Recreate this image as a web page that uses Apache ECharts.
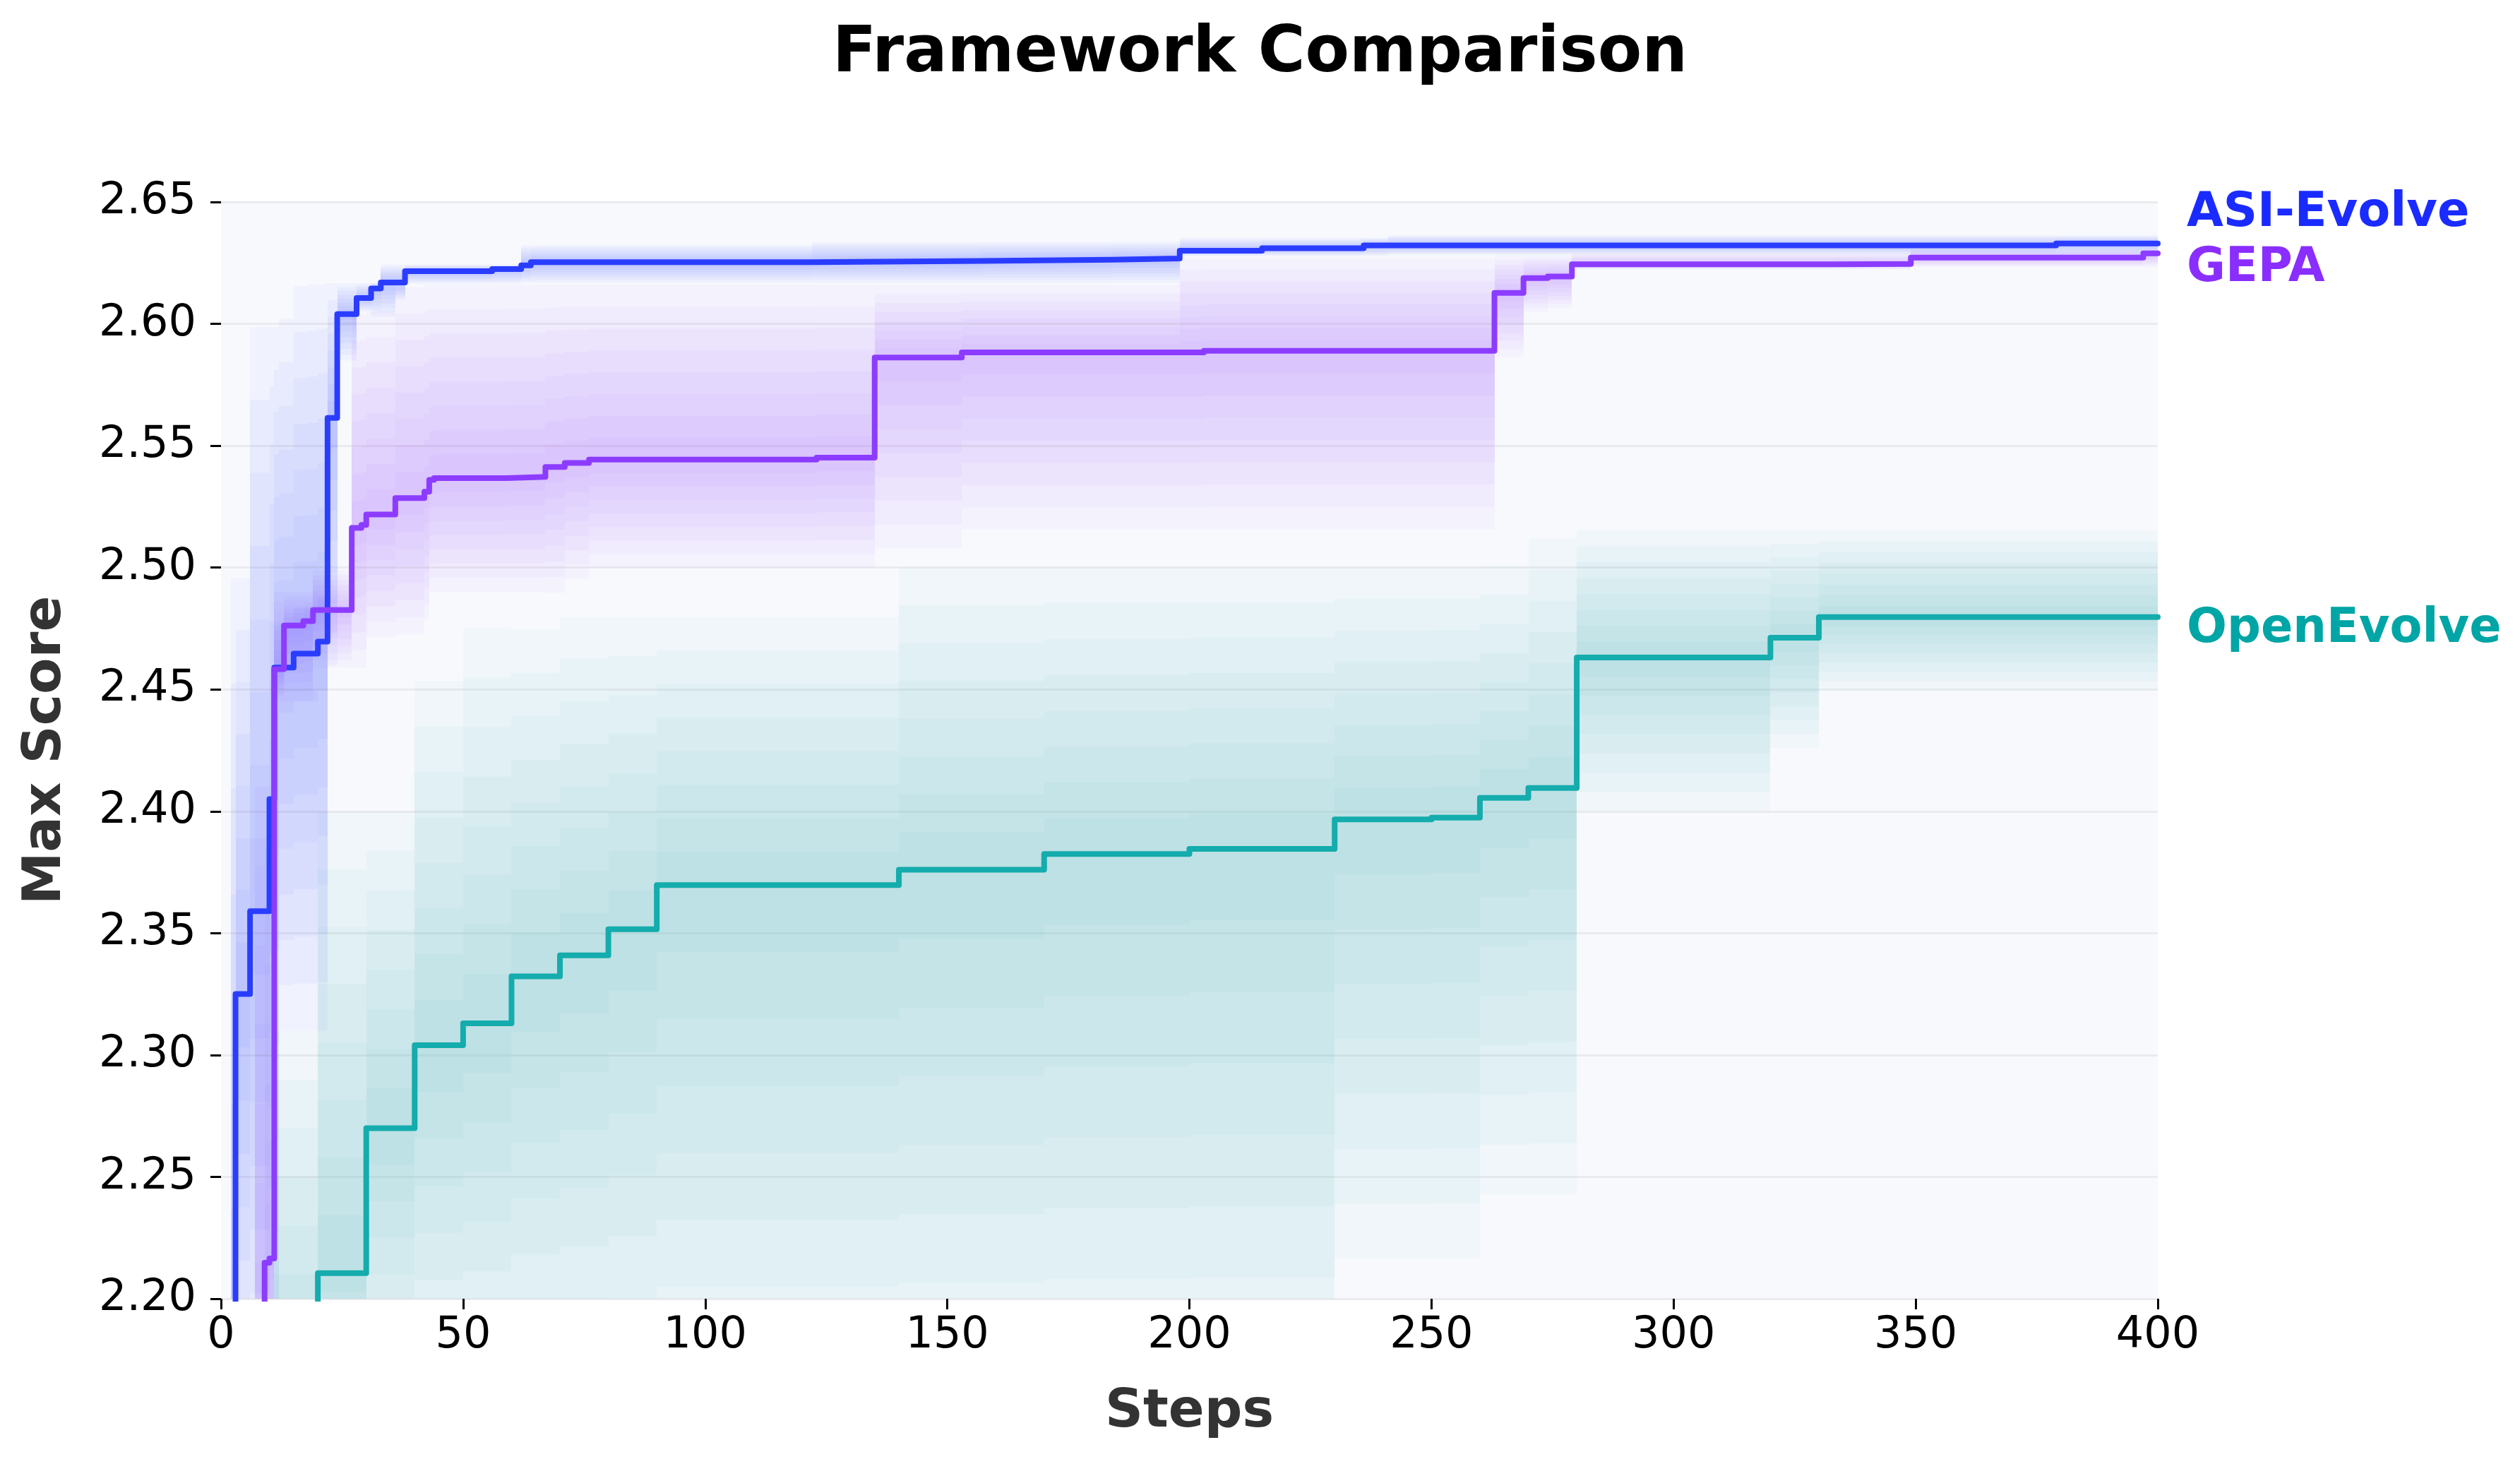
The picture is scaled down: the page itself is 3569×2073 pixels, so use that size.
<!DOCTYPE html>
<html>
<head>
<meta charset="utf-8">
<title>Framework Comparison</title>
<script src="https://cdn.jsdelivr.net/npm/echarts@6/dist/echarts.min.js"></script>
<style>
  html, body { margin: 0; padding: 0; background: #fff; }
  #main { width: 3569px; height: 2073px; }
</style>
</head>
<body>
<div id="main"></div>
<script>
// best score so far, post-step: score[i] holds from step[i] to step[i+1]
// first value of each run sits below the axis (curve enters from the bottom)
var asiSteps  = [0, 3, 6, 10, 11, 15, 20, 22, 24, 28, 31, 33, 38, 56, 62, 64, 122, 157, 184, 198, 215, 236, 379, 400];
var asiScores = [2.15, 2.325, 2.359, 2.405, 2.459, 2.4647, 2.4696, 2.5614, 2.604, 2.6106, 2.6145, 2.617, 2.6216, 2.6225, 2.624, 2.6253, 2.6258, 2.6263, 2.6268, 2.630, 2.631, 2.6322, 2.633, 2.633];

var gepaSteps  = [0, 9, 10, 11, 13, 17, 19, 27, 29, 30, 36, 42, 43, 44, 59, 67, 71, 76, 123, 135, 153, 203, 263, 269, 274, 279, 333, 349, 397, 400];
var gepaScores = [2.15, 2.2148, 2.2165, 2.4583, 2.4762, 2.478, 2.4826, 2.5163, 2.5175, 2.5218, 2.5285, 2.5311, 2.536, 2.5367, 2.5372, 2.5413, 2.5429, 2.5443, 2.5451, 2.5862, 2.5883, 2.5889, 2.6127, 2.6188, 2.6194, 2.6244, 2.6246, 2.6272, 2.6289, 2.6289];

var openSteps  = [0, 20, 30, 40, 50, 60, 70, 80, 90, 140, 170, 200, 230, 250, 260, 270, 280, 320, 330, 400];
var openScores = [2.15, 2.2105, 2.270, 2.304, 2.313, 2.3323, 2.3409, 2.3516, 2.3697, 2.376, 2.3825, 2.3846, 2.3967, 2.3974, 2.4055, 2.4096, 2.4631, 2.4712, 2.4797, 2.4797];

// spread across runs (min / max), also post-step
var asiBandSteps = [2, 6, 12, 15, 18, 21, 22, 24, 28, 31, 33, 36, 38, 62, 122, 198, 241, 400];
var asiBandLow   = [2.15, 2.15, 2.310, 2.310, 2.310, 2.310, 2.46, 2.585, 2.605, 2.603, 2.603, 2.610, 2.6164, 2.6167, 2.6167, 2.6278, 2.6282, 2.6282];
var asiBandHigh  = [2.4957, 2.5987, 2.6021, 2.6155, 2.6162, 2.6167, 2.6167, 2.6167, 2.6167, 2.617, 2.6243, 2.6243, 2.6243, 2.6323, 2.6336, 2.6353, 2.6363, 2.6363];

var gepaBandSteps = [7, 11, 19, 27, 30, 36, 42, 43, 67, 71, 76, 135, 153, 198, 263, 269, 274, 279, 349, 400];
var gepaBandLow   = [2.15, 2.445, 2.459, 2.459, 2.4716, 2.4727, 2.4788, 2.490, 2.4897, 2.4952, 2.500, 2.5079, 2.5157, 2.5157, 2.5865, 2.605, 2.6065, 2.6224, 2.6234, 2.6234];
var gepaBandHigh  = [2.41, 2.49, 2.499, 2.604, 2.605, 2.615, 2.616, 2.616, 2.616, 2.616, 2.616, 2.616, 2.616, 2.627, 2.628, 2.628, 2.628, 2.629, 2.6305, 2.6305];

var openBandSteps = [11, 20, 40, 50, 60, 70, 140, 230, 260, 270, 280, 320, 330, 400];
var openBandLow   = [2.15, 2.15, 2.15, 2.15, 2.15, 2.15, 2.15, 2.2165, 2.2429, 2.2429, 2.40, 2.426, 2.4497, 2.4497];
var openBandHigh  = [2.31, 2.40, 2.4535, 2.475, 2.4746, 2.4797, 2.50, 2.50, 2.5006, 2.5119, 2.5153, 2.5153, 2.5153, 2.5153];

var yTicks = [2.20, 2.25, 2.30, 2.35, 2.40, 2.45, 2.50, 2.55, 2.60, 2.65];

var seriesNames  = ['ASI-Evolve', 'GEPA', 'OpenEvolve'];
var lineColors   = ['#2a3dff', '#8c3cff', '#14acac'];
var labelColors  = ['#1a2bff', '#8a2eff', '#00a5a5'];
var labelScores  = [2.6452, 2.6226, 2.4744]; // where the end labels sit

var chart = echarts.init(document.getElementById('main'));

function toPoints(steps, scores) {
    var pts = [];
    for (var i = 0; i < steps.length; i++) pts.push([steps[i], scores[i]]);
    return pts;
}

function valueAt(steps, vals, x) {
    var v = vals[0];
    for (var i = 0; i < steps.length; i++) {
        if (steps[i] <= x) v = vals[i]; else break;
    }
    return v;
}

// nested layers between the curve and the band edges, so the shade is darkest at the curve
function bandRects(lineSteps, lineScores, bSteps, bLow, bHigh, layers) {
    var xs = bSteps.slice();
    var first = bSteps[0], last = bSteps[bSteps.length - 1];
    lineSteps.forEach(function (s) {
        if (s > first && s < last && xs.indexOf(s) < 0) xs.push(s);
    });
    xs.sort(function (a, b) { return a - b; });
    var rects = [];
    for (var i = 0; i < xs.length - 1; i++) {
        var c = valueAt(lineSteps, lineScores, xs[i]);
        var lo = Math.min(valueAt(bSteps, bLow, xs[i]), c);
        var hi = Math.max(valueAt(bSteps, bHigh, xs[i]), c);
        for (var k = 1; k <= layers; k++) {
            var f = k / layers;
            rects.push([xs[i], xs[i + 1], c - (c - lo) * f, c + (hi - c) * f]);
        }
    }
    return rects;
}

function bandRenderer(fill) {
    return function (params, api) {
        var a = api.coord([api.value(0), api.value(3)]);
        var b = api.coord([api.value(1), api.value(2)]);
        var x0 = Math.round(a[0]), x1 = Math.round(b[0]);
        var cs = params.coordSys;
        var shape = echarts.graphic.clipRectByRect(
            { x: x0, y: a[1], width: x1 - x0, height: b[1] - a[1] },
            { x: cs.x, y: cs.y, width: cs.width, height: cs.height });
        if (!shape) return;
        return { type: 'rect', shape: shape, style: { fill: fill } };
    };
}

function bandSeries(data, fill) {
    return {
        type: 'custom',
        renderItem: bandRenderer(fill),
        data: data,
        encode: { x: [0, 1], y: [2, 3] },
        silent: true,
        z: 1
    };
}

function lineSeries(name, steps, scores, color, z) {
    return {
        name: name,
        type: 'line',
        step: 'end',
        data: toPoints(steps, scores),
        showSymbol: false,
        clip: true,
        lineStyle: { color: color, width: 8, cap: 'round', join: 'round' },
        z: z
    };
}

var LAYERS = 8;
var font = '"DejaVu Sans", sans-serif';

var option = {
    animation: false,
    backgroundColor: '#ffffff',
    textStyle: { fontFamily: font },
    title: {
        text: 'Framework Comparison',
        left: 'center',
        top: 27,
        textStyle: { fontSize: 91, fontWeight: 'bold', color: '#000', fontFamily: font }
    },
    grid: {
        left: 313, right: 513, top: 286, bottom: 234,
        show: true, backgroundColor: '#f8f9fd', borderWidth: 0
    },
    xAxis: {
        type: 'value', min: 0, max: 400, interval: 50,
        name: 'Steps', nameLocation: 'middle', nameGap: 124,
        nameTextStyle: { fontSize: 75, fontWeight: 'bold', color: '#333', fontFamily: font },
        axisLine: { show: false },
        axisTick: { show: true, length: 15, lineStyle: { color: '#000', width: 3 } },
        axisLabel: { fontSize: 62, color: '#000', margin: 22, fontFamily: font },
        splitLine: { show: false }
    },
    yAxis: {
        type: 'value', min: yTicks[0], max: yTicks[yTicks.length - 1], interval: 0.05,
        name: 'Max Score', nameLocation: 'middle', nameGap: 210,
        nameTextStyle: { fontSize: 75, fontWeight: 'bold', color: '#333', fontFamily: font },
        axisLine: { show: false },
        axisTick: { show: true, length: 15, lineStyle: { color: '#000', width: 3 } },
        axisLabel: {
            fontSize: 62, color: '#000', margin: 35, fontFamily: font,
            formatter: function (v) { return v.toFixed(2); }
        },
        splitLine: { show: true, lineStyle: { color: '#ebebef', width: 3 } }
    },
    series: [
        bandSeries(bandRects(openSteps, openScores, openBandSteps, openBandLow, openBandHigh, LAYERS), 'rgba(19,171,171,0.034)'),
        bandSeries(bandRects(gepaSteps, gepaScores, gepaBandSteps, gepaBandLow, gepaBandHigh, LAYERS), 'rgba(140,60,255,0.034)'),
        bandSeries(bandRects(asiSteps, asiScores, asiBandSteps, asiBandLow, asiBandHigh, LAYERS), 'rgba(42,61,255,0.034)'),
        lineSeries(seriesNames[2], openSteps, openScores, lineColors[2], 4),
        lineSeries(seriesNames[0], asiSteps, asiScores, lineColors[0], 5),
        lineSeries(seriesNames[1], gepaSteps, gepaScores, lineColors[1], 6)
    ]
};
chart.setOption(option);

// end labels to the right of the plot
var labels = [];
for (var i = 0; i < seriesNames.length; i++) {
    var p = chart.convertToPixel({ gridIndex: 0 }, [400, labelScores[i]]);
    labels.push({
        type: 'text',
        x: p[0] + 41,
        y: p[1],
        style: {
            text: seriesNames[i],
            fill: labelColors[i],
            fontSize: 67,
            fontWeight: 'bold',
            fontFamily: font,
            verticalAlign: 'middle'
        },
        z: 10
    });
}
chart.setOption({ graphic: labels });
</script>
</body>
</html>
